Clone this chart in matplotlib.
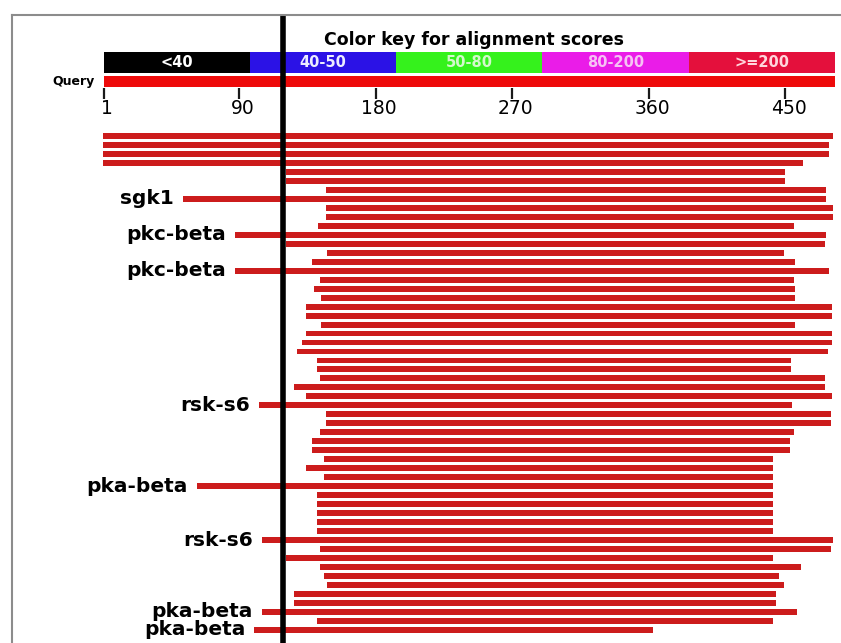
"""BLAST graphic overview: colour key, query ruler and the hit bars.

Each hit is drawn as a horizontal bar spanning the aligned part of the
query; a few hits are labelled with leader lines on the left.
"""

import matplotlib

matplotlib.use("Agg")
import matplotlib.pyplot as plt
import numpy as np
from matplotlib.lines import Line2D

QUERY_LENGTH = 482
TICK_POSITIONS = [1, 90, 180, 270, 360, 450]

KEY_LABELS = ["<40", "40-50", "50-80", "80-200", ">=200"]
KEY_COLORS = ["#000000", "#2b12e6", "#35f21c", "#ea1ce8", "#e4103c"]
KEY_TEXT_COLORS = ["#ffffff", "#ececff", "#d4f8cc", "#f6c2f4", "#ffd6dc"]

# aligned region of each hit on the query (top to bottom)
HIT_START = [
    0, 0, 0, 0, 121, 121, 147, 121, 147, 147,
    142, 121, 121, 148, 138, 121, 143, 139, 144, 134,
    134, 144, 134, 131, 128, 141, 141, 143, 126, 134,
    121, 147, 147, 143, 138, 138, 146, 134, 146, 121,
    141, 141, 141, 141, 141, 121, 143, 121, 143, 146,
    148, 126, 126, 121, 141, 121,
]
HIT_END = [
    481.5, 479, 479, 461.5, 450, 450, 477, 477, 481.5, 481.5,
    455.5, 477, 476, 449, 456.5, 479, 455.5, 456.5, 456.5, 480.5,
    480.5, 456.5, 480.5, 480.5, 478, 453.5, 453.5, 476, 476, 480.5,
    454.5, 480, 480, 455.5, 453, 453, 441.5, 441.5, 441.5, 441.5,
    441.5, 441.5, 441.5, 441.5, 441.5, 481.5, 480, 441.5, 460, 446,
    449, 444, 444, 457.5, 441.5, 363,
]

LABEL_ROWS = [7, 11, 15, 30, 39, 45, 53, 55]
LABEL_NAMES = ["sgk1", "pkc-beta", "pkc-beta", "rsk-s6",
               "pka-beta", "rsk-s6", "pka-beta", "pka-beta"]
LABEL_LEADER_START = [53, 87, 87, 103, 62, 105, 105, 100]

MARKER_POSITION = 119

HIT_COLOR = "#cc1c1c"
QUERY_COLOR = "#ee0a0a"


def main():
    fig = plt.figure(figsize=(8.41, 6.43), dpi=100)
    fig.patch.set_facecolor("white")
    ax = fig.add_axes([0, 0, 1, 1])
    # x in query residues, y in hit rows (row 0 = first hit)
    ax.set_xlim(-67.75, 486.6)
    ax.set_ylim(56.46, -15.14)
    ax.axis("off")

    # colour key
    seg = QUERY_LENGTH / len(KEY_LABELS)
    key_left = 0.5 + seg * np.arange(len(KEY_LABELS))
    ax.barh(-8.22, seg, left=key_left, height=2.34, color=KEY_COLORS)
    for x, lab, tc in zip(key_left + seg / 2, KEY_LABELS, KEY_TEXT_COLORS):
        ax.text(x, -8.22, lab, ha="center", va="center", fontsize=10.5,
                fontweight="bold", color=tc)
    ax.text(0.5 + QUERY_LENGTH / 2 + 3, -10.65, "Color key for alignment scores",
            ha="center", va="center", fontsize=12.5, fontweight="bold")

    # query ruler
    ax.barh(-6.05, QUERY_LENGTH, left=0.5, height=1.26, color=QUERY_COLOR)
    ax.text(-5.5, -6.05, "Query", ha="right", va="center", fontsize=9,
            fontweight="bold")
    ax.vlines(TICK_POSITIONS, -5.35, -4.12, color="#1a1a1a", lw=1.6)
    for t in TICK_POSITIONS:
        ax.text(t + 2, -3.1, str(t), ha="center", va="center", fontsize=13.5)

    # hits
    start = np.array(HIT_START, dtype=float)
    end = np.array(HIT_END, dtype=float)
    rows = np.arange(len(start))
    ax.barh(rows, end - start, left=start, height=0.66, color=HIT_COLOR)

    # labelled hits with leader lines
    lead_start = np.array(LABEL_LEADER_START, dtype=float)
    ax.barh(LABEL_ROWS, start[LABEL_ROWS] - lead_start, left=lead_start,
            height=0.66, color=HIT_COLOR)
    for r, name, x in zip(LABEL_ROWS, LABEL_NAMES, lead_start):
        ax.text(x - 6, r, name, ha="right", va="center", fontsize=14.5,
                fontweight="bold")

    # marker line across the whole panel
    ax.vlines(MARKER_POSITION, -13.45, 56.46, color="black", lw=4, zorder=5)

    # window frame
    fig.add_artist(Line2D([12 / 841, 1], [1 - 14.5 / 643] * 2,
                          color="#8c8c8c", lw=1.5))
    fig.add_artist(Line2D([12 / 841] * 2, [0, 1 - 14.5 / 643],
                          color="#8c8c8c", lw=1.5))

    fig.savefig("out.png", dpi=100, facecolor="white")


if __name__ == "__main__":
    main()
